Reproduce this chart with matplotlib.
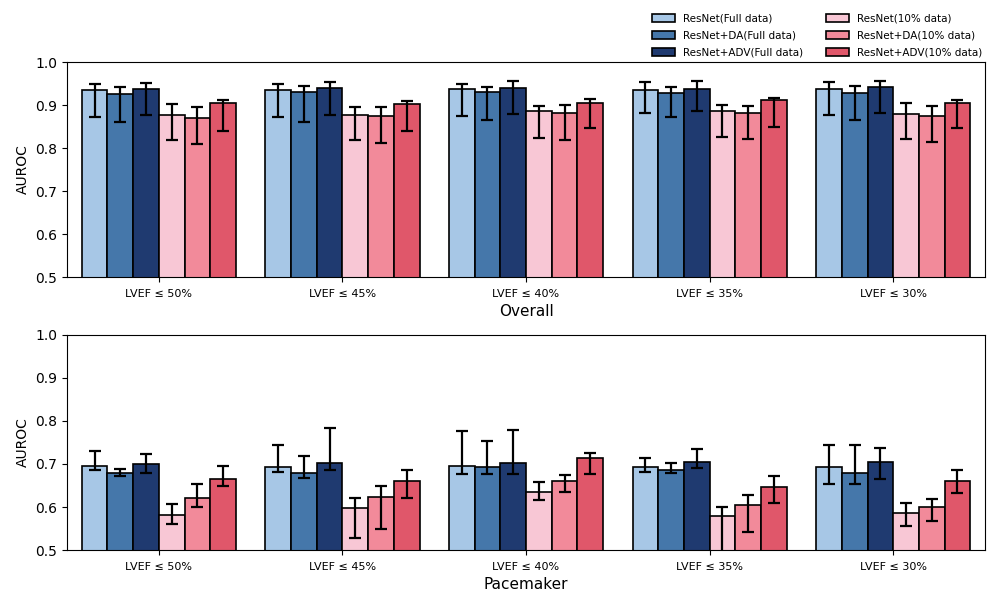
import matplotlib
matplotlib.use("Agg")
import matplotlib.pyplot as plt
import numpy as np

# thresholds on the x axis
thresholds = ["LVEF ≤ 50%", "LVEF ≤ 45%", "LVEF ≤ 40%", "LVEF ≤ 35%", "LVEF ≤ 30%"]

models = [
    "ResNet(Full data)",
    "ResNet+DA(Full data)",
    "ResNet+ADV(Full data)",
    "ResNet(10% data)",
    "ResNet+DA(10% data)",
    "ResNet+ADV(10% data)",
]
colors = ["#a7c7e6", "#4577aa", "#1f3a70", "#f8c7d5", "#f28a9a", "#e0576a"]

# Overall: mean AUROC, lower and upper CI per model (rows) and threshold (cols)
overall_mean = [
    [0.936, 0.936, 0.937, 0.936, 0.937],
    [0.926, 0.930, 0.930, 0.929, 0.929],
    [0.937, 0.939, 0.940, 0.937, 0.941],
    [0.877, 0.877, 0.885, 0.885, 0.878],
    [0.870, 0.875, 0.881, 0.881, 0.874],
    [0.905, 0.902, 0.905, 0.911, 0.905],
]
overall_low = [
    [0.873, 0.872, 0.874, 0.882, 0.876],
    [0.861, 0.861, 0.864, 0.871, 0.865],
    [0.877, 0.877, 0.878, 0.886, 0.882],
    [0.819, 0.819, 0.823, 0.826, 0.822],
    [0.810, 0.811, 0.819, 0.820, 0.815],
    [0.840, 0.840, 0.846, 0.850, 0.847],
]
overall_high = [
    [0.950, 0.950, 0.950, 0.954, 0.954],
    [0.941, 0.945, 0.943, 0.943, 0.945],
    [0.952, 0.954, 0.956, 0.957, 0.957],
    [0.902, 0.895, 0.898, 0.901, 0.904],
    [0.896, 0.895, 0.900, 0.898, 0.898],
    [0.912, 0.909, 0.913, 0.917, 0.912],
]

# Pacemaker subgroup
pace_mean = [
    [0.695, 0.692, 0.695, 0.693, 0.692],
    [0.678, 0.678, 0.692, 0.686, 0.679],
    [0.699, 0.702, 0.703, 0.705, 0.704],
    [0.582, 0.598, 0.636, 0.579, 0.586],
    [0.621, 0.624, 0.661, 0.605, 0.600],
    [0.666, 0.661, 0.713, 0.647, 0.660],
]
pace_low = [
    [0.686, 0.682, 0.677, 0.681, 0.654],
    [0.673, 0.667, 0.677, 0.678, 0.653],
    [0.678, 0.687, 0.677, 0.691, 0.665],
    [0.560, 0.529, 0.617, 0.480, 0.555],
    [0.599, 0.550, 0.636, 0.542, 0.568],
    [0.650, 0.620, 0.677, 0.610, 0.633],
]
pace_high = [
    [0.730, 0.745, 0.776, 0.713, 0.744],
    [0.688, 0.718, 0.754, 0.702, 0.744],
    [0.723, 0.784, 0.778, 0.734, 0.738],
    [0.606, 0.621, 0.657, 0.599, 0.609],
    [0.654, 0.649, 0.675, 0.629, 0.619],
    [0.695, 0.685, 0.726, 0.671, 0.686],
]


def draw_panel(ax, mean, low, high, xlabel):
    width = 0.14
    x = np.arange(len(thresholds))
    for i, name in enumerate(models):
        m = np.array(mean[i])
        err = np.vstack([m - np.array(low[i]), np.array(high[i]) - m])
        pos = x + (i - 2.5) * width
        ax.bar(pos, m, width, color=colors[i], edgecolor="black",
               linewidth=1.2, label=name)
        ax.errorbar(pos, m, yerr=err, fmt="none", ecolor="black",
                    elinewidth=1.6, capsize=4, capthick=1.6)
    ax.set_xticks(x)
    ax.set_xticklabels(thresholds, fontsize=8)
    ax.tick_params(axis="x", pad=5)
    ax.set_xlim(-0.5, len(thresholds) - 0.5)
    ax.set_ylim(0.5, 1.0)
    ax.set_yticks([0.5, 0.6, 0.7, 0.8, 0.9, 1.0])
    ax.tick_params(axis="y", labelsize=10)
    ax.set_ylabel("AUROC", fontsize=10)
    ax.set_xlabel(xlabel, fontsize=11, labelpad=4)


fig = plt.figure(figsize=(9.97, 6.05), dpi=100)
ax1 = fig.add_axes([0.0672, 0.5421, 0.9208, 0.3554])
ax2 = fig.add_axes([0.0672, 0.0909, 0.9208, 0.3554])

draw_panel(ax1, overall_mean, overall_low, overall_high, "Overall")
draw_panel(ax2, pace_mean, pace_low, pace_high, "Pacemaker")

handles, labels = ax1.get_legend_handles_labels()
fig.legend(handles, labels, ncol=2, loc="upper right",
           bbox_to_anchor=(0.995, 0.993), frameon=False, fontsize=7.5,
           handlelength=2.2, handleheight=0.8, columnspacing=2.2,
           labelspacing=0.65)

fig.savefig("out.png", dpi=100)
